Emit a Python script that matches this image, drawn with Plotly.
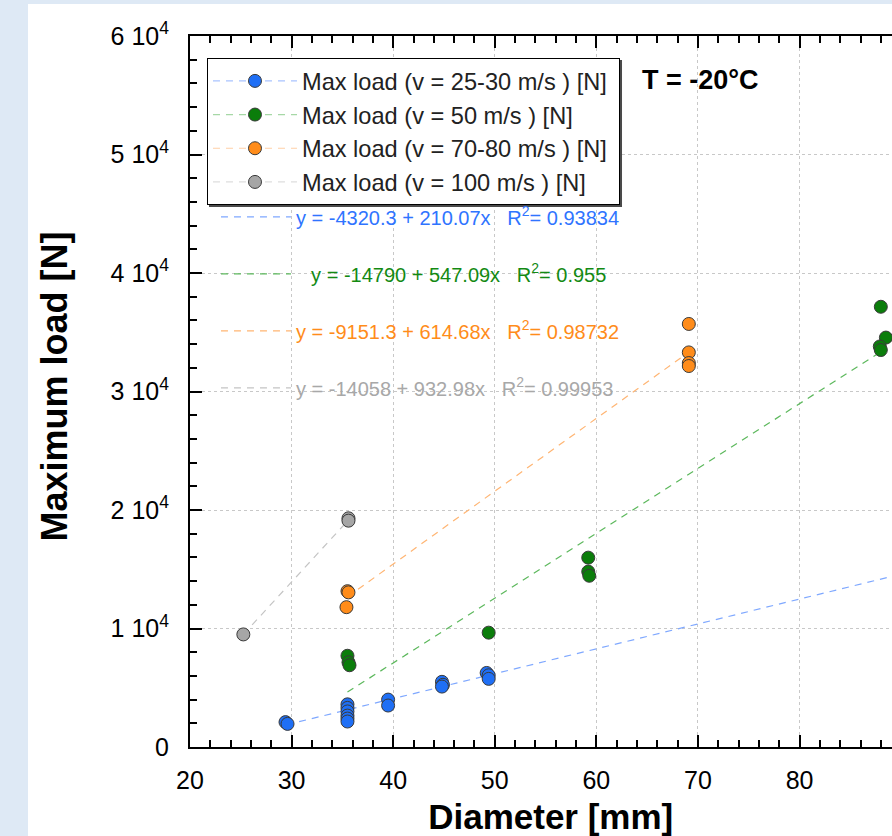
import plotly.graph_objects as go

# ---------------- data ----------------
blue_x = [29.4, 29.6, 35.5, 35.5, 35.5, 35.5, 35.5, 35.5, 39.5, 39.5, 44.8, 44.9, 44.8, 49.2, 49.4, 49.4]
blue_y = [2100, 1950, 3600, 3300, 3000, 2650, 2400, 2150, 4000, 3500, 5500, 5250, 5100, 6250, 6050, 5750]

green_x = [35.5, 35.6, 35.7, 49.4, 59.2, 59.2, 59.3, 88.0, 88.5, 87.9, 88.0]
green_y = [7700, 7150, 6900, 9650, 15980, 14800, 14450, 37150, 34550, 33800, 33500]

orange_x = [35.5, 35.6, 35.4, 69.1, 69.1, 69.1, 69.1]
orange_y = [13150, 13050, 11800, 35700, 33300, 32400, 32150]

gray_x = [25.25, 35.6, 35.6]
gray_y = [9500, 19300, 19100]

series_names = [
    "Max load (v = 25-30 m/s ) [N]",
    "Max load (v = 50 m/s ) [N]",
    "Max load (v = 70-80 m/s ) [N]",
    "Max load (v = 100 m/s ) [N]",
]

# linear fits reported on the chart
fit_intercepts = [-4320.3, -14790, -9151.3, -14058]
fit_slopes = [210.07, 547.09, 614.68, 932.98]
fit_r2 = ["0.93834", "0.955", "0.98732", "0.99953"]
fit_x_ranges = [[29.5, 100.0], [35.5, 88.0], [35.5, 69.1], [25.25, 35.6]]

y_tickvals = [0, 10000, 20000, 30000, 40000, 50000, 60000]
y_ticktext = ["0", "1 10<sup>4</sup>", "2 10<sup>4</sup>", "3 10<sup>4</sup>",
              "4 10<sup>4</sup>", "5 10<sup>4</sup>", "6 10<sup>4</sup>"]

# ---------------- styles ----------------
marker_colors = ["#1f6ff5", "#0b7d0b", "#ff8c1a", "#a6a6a6"]
fit_line_colors = ["#7fa8ff", "#5cb85c", "#ffb573", "#c4c4c4"]
legend_line_colors = ["#a9c4ff", "#a6d8a6", "#ffd0a6", "#dedede"]
fit_text_colors = ["#2f74ff", "#138a13", "#ff8c1a", "#a8a8a8"]
fit_text_pad = ["", "\u00a0\u00a0\u2009", "", ""]

FONT = "Liberation Sans, Arial, sans-serif"
NB = "\u00a0"

data_x = [blue_x, green_x, orange_x, gray_x]
data_y = [blue_y, green_y, orange_y, gray_y]

fig = go.Figure()

# fit lines (shown in the second legend with their equations)
for i in range(4):
    xs = fit_x_ranges[i]
    ys = [fit_intercepts[i] + fit_slopes[i] * v for v in xs]
    label = ("%sy = %s + %sx%sR<sup>2</sup>= %s" %
             (fit_text_pad[i], fit_intercepts[i], fit_slopes[i], NB * 3, fit_r2[i]))
    fig.add_trace(go.Scatter(
        x=xs, y=ys, mode="lines",
        line=dict(color=fit_line_colors[i], width=1.2, dash="7px,6px"),
        name='<span style="color:%s">%s</span>' % (fit_text_colors[i], label),
        legend="legend2", legendgroup="fit%d" % i, showlegend=True,
        hoverinfo="skip",
    ))

# data points
for i in range(4):
    fig.add_trace(go.Scatter(
        x=data_x[i], y=data_y[i], mode="markers",
        marker=dict(size=13, color=marker_colors[i], line=dict(color="#3a3a3a", width=1)),
        showlegend=False, name=series_names[i],
    ))

# legend entries for the data series
for i in range(4):
    fig.add_trace(go.Scatter(
        x=[None], y=[None], mode="lines+markers",
        marker=dict(size=13, color=marker_colors[i], line=dict(color="#3a3a3a", width=1)),
        line=dict(color=legend_line_colors[i], width=1.2, dash="7px,6px"),
        name=series_names[i] + NB, legend="legend", showlegend=True,
    ))

axis_common = dict(
    showline=True, linecolor="black", linewidth=2,
    ticks="inside", ticklen=12, tickwidth=2, tickcolor="black",
    showgrid=True, gridcolor="#c8c8c8", griddash="dot", gridwidth=1,
    zeroline=False, automargin=False,
    tickfont=dict(family=FONT, size=25, color="black"),
)

fig.update_layout(
    width=892, height=836,
    margin=dict(l=190, r=0, t=36, b=89),
    paper_bgcolor="#dee9f5",
    plot_bgcolor="rgba(0,0,0,0)",
    font=dict(family=FONT, color="black"),
    xaxis=dict(
        range=[20, 89.1], tick0=20, dtick=10, mirror="ticks",
        minor=dict(dtick=2, ticks="inside", ticklen=7, tickwidth=1.5, tickcolor="black", showgrid=False),
        ticklabelstandoff=10,
        title=dict(text="<b>" + NB * 2 + "Diameter [mm]</b>",
                   font=dict(family=FONT, size=35, color="black"), standoff=17),
        **axis_common,
    ),
    yaxis=dict(
        range=[0, 60000], tickvals=y_tickvals, ticktext=y_ticktext, mirror=False,
        minor=dict(dtick=2000, ticks="inside", ticklen=7, tickwidth=1.5, tickcolor="black", showgrid=False),
        ticklabelstandoff=14,
        title=dict(text="<b>" + NB + "Maximum load [N]</b>",
                   font=dict(family=FONT, size=36, color="black"), standoff=32),
        **axis_common,
    ),
    legend=dict(
        x=0.0242, y=0.969, xanchor="left", yanchor="top",
        bgcolor="white", bordercolor="black", borderwidth=1,
        font=dict(family=FONT, size=23.6, color="#222222"),
        itemwidth=84, tracegroupgap=0,
    ),
    legend2=dict(
        x=0.037, y=0.773, xanchor="left", yanchor="top",
        bgcolor="rgba(0,0,0,0)", borderwidth=0,
        font=dict(family=FONT, size=20),
        itemwidth=70, tracegroupgap=28, traceorder="grouped",
    ),
    shapes=[
        dict(type="rect", xref="paper", yref="paper", x0=-0.2308, x1=1.2, y0=-0.3, y1=1.045,
             fillcolor="white", line=dict(width=0), layer="below"),
        # soft drop shadow behind the legend box
        dict(type="rect", xref="paper", yref="paper", x0=0.0271, x1=0.6154, y0=0.7595, y1=0.9662,
             fillcolor="#4a4a4a", line=dict(width=0), layer="above"),
    ],
    annotations=[
        dict(text="<b>T = -20°C</b>", xref="paper", yref="paper", x=0.7265, y=0.938,
             xanchor="center", yanchor="middle",
             showarrow=False, font=dict(family=FONT, size=27, color="black")),
    ],
)

fig.write_html("out.html", config={"displayModeBar": False},
               post_script="document.body.style.margin='0';document.body.style.overflow='hidden';")
